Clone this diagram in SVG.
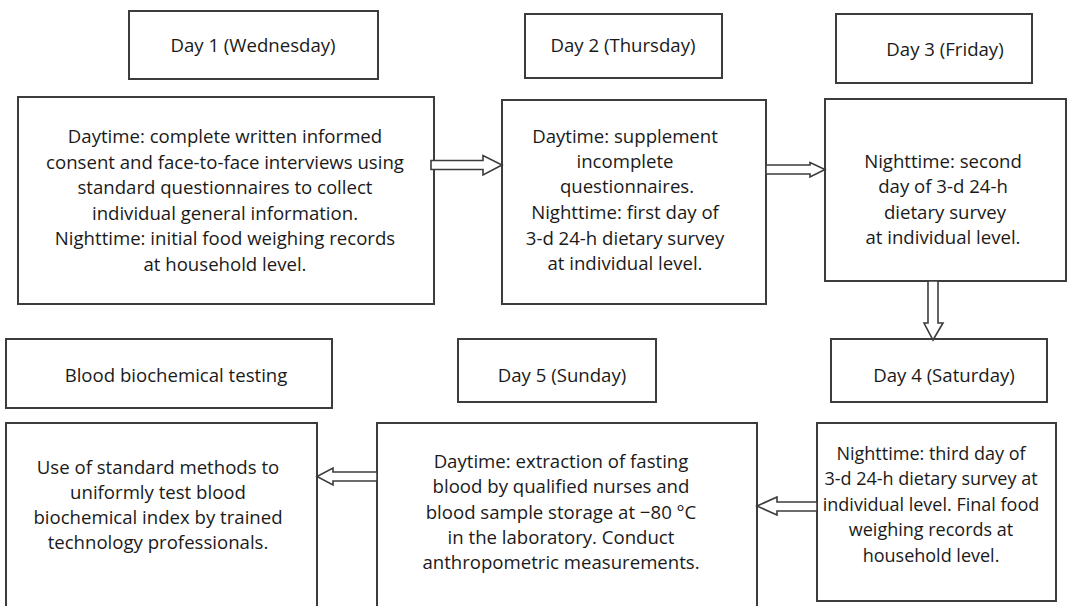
<svg xmlns="http://www.w3.org/2000/svg" width="1067" height="606" viewBox="0 0 1067 606">
<style>
.box{fill:#fff;stroke:#3c3c3c;stroke-width:2}
.t{font-family:"Open Sans","Liberation Sans",Arial,sans-serif;font-size:18.6px;fill:#1a1a1a;text-anchor:middle}
.s{font-size:18px}
.arr{fill:#fff;stroke:#3c3c3c;stroke-width:1.6;stroke-linejoin:miter}
</style>
<rect width="1067" height="606" fill="#fff"/>
<g id="day1-header"><rect class="box" x="129" y="11" width="249" height="68"/><text class="t" x="253" y="52">Day 1 (Wednesday)</text></g>
<g id="day1-box"><rect class="box" x="18" y="97" width="416" height="207"/>
<text class="t" x="225" y="143">Daytime: complete written informed</text>
<text class="t" x="225" y="168.5">consent and face-to-face interviews using</text>
<text class="t" x="225" y="194">standard questionnaires to collect</text>
<text class="t" x="225" y="220">individual general information.</text>
<text class="t" x="225" y="245">Nighttime: initial food weighing records</text>
<text class="t" x="225" y="271">at household level.</text></g>
<g id="day2-header"><rect class="box" x="525" y="14" width="197" height="64"/><text class="t" x="623" y="52">Day 2 (Thursday)</text></g>
<g id="day2-box"><rect class="box" x="502" y="100" width="264" height="204"/>
<text class="t" x="625" y="143">Daytime: supplement</text>
<text class="t" x="625" y="168">incomplete</text>
<text class="t" x="627" y="193">questionnaires.</text>
<text class="t" x="625" y="219">Nighttime: first day of</text>
<text class="t" x="625" y="244.5">3-d 24-h dietary survey</text>
<text class="t" x="625" y="270">at individual level.</text></g>
<g id="day3-header"><rect class="box" x="836" y="14" width="196" height="69"/><text class="t" x="945" y="56">Day 3 (Friday)</text></g>
<g id="day3-box"><rect class="box" x="825" y="99" width="241" height="182"/>
<text class="t" x="943" y="168">Nighttime: second</text>
<text class="t" x="943" y="193">day of 3-d 24-h</text>
<text class="t" x="945" y="219">dietary survey</text>
<text class="t" x="943" y="244">at individual level.</text></g>
<g id="day4-header"><rect class="box" x="831" y="339" width="216" height="63"/><text class="t" x="944" y="382">Day 4 (Saturday)</text></g>
<g id="day4-box"><rect class="box" x="817" y="423" width="239" height="178"/>
<text class="t s" x="931" y="460">Nighttime: third day of</text>
<text class="t s" x="931" y="485">3-d 24-h dietary survey at</text>
<text class="t s" x="931" y="511">individual level. Final food</text>
<text class="t s" x="931" y="536">weighing records at</text>
<text class="t s" x="931" y="562">household level.</text></g>
<g id="day5-header"><rect class="box" x="458" y="339" width="198" height="63"/><text class="t" x="562" y="382">Day 5 (Sunday)</text></g>
<g id="day5-box"><rect class="box" x="377" y="423" width="380" height="190"/>
<text class="t" x="561" y="468">Daytime: extraction of fasting</text>
<text class="t" x="561" y="493">blood by qualified nurses and</text>
<text class="t" x="561" y="519">blood sample storage at −80 °C</text>
<text class="t" x="561" y="544">in the laboratory. Conduct</text>
<text class="t" x="561" y="569">anthropometric measurements.</text></g>
<g id="blood-header"><rect class="box" x="6" y="339" width="326" height="69"/><text class="t" x="176" y="382">Blood biochemical testing</text></g>
<g id="blood-box"><rect class="box" x="6" y="423" width="311" height="190"/>
<text class="t" x="158" y="474">Use of standard methods to</text>
<text class="t" x="158" y="499">uniformly test blood</text>
<text class="t" x="158" y="524">biochemical index by trained</text>
<text class="t" x="158" y="549">technology professionals.</text></g>
<g id="connectors">
<polygon class="arr" points="431,160.5 483,160.5 483,155.5 502,165 483,175 483,169.5 431,169.5"/>
<polygon class="arr" points="766,165 810,165 810,162.5 825,169.5 810,177 810,174 766,174"/>
<polygon class="arr" points="928,281 938,281 938,323 943,323 933,340 924,323 928,323"/>
<polygon class="arr" points="817,502 777,502 777,497 757,506 777,515 777,511 817,511"/>
<polygon class="arr" points="377,472 333,472 333,468 317,476.5 333,485 333,481 377,481"/>
</g>
</svg>
